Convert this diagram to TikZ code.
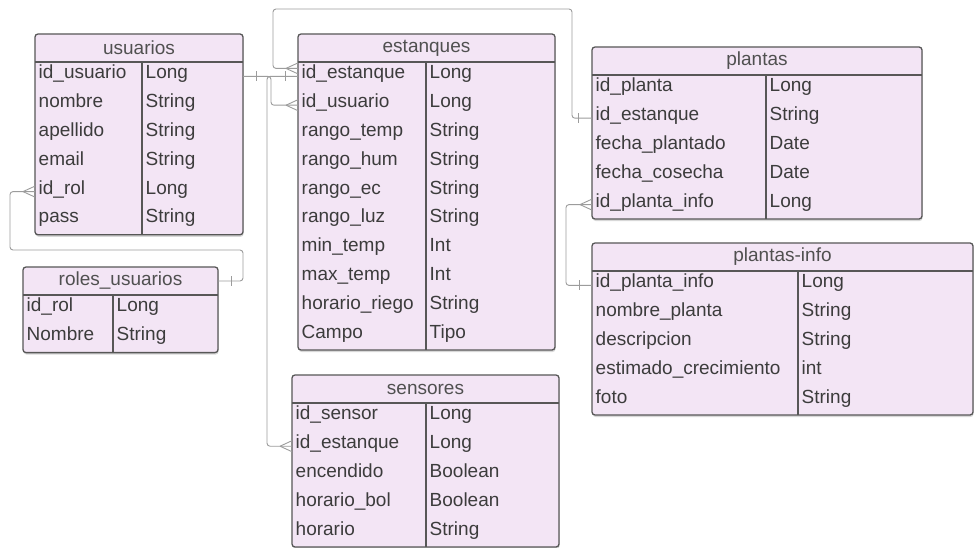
\documentclass[tikz,border=0pt]{standalone}
\usepackage{fontspec}
\setmainfont{Liberation Sans}
\usetikzlibrary{calc,shadows,fit}

\definecolor{tablefill}{HTML}{F3E5F5}
\definecolor{tableedge}{HTML}{575757}
\definecolor{textgrey}{HTML}{3C3C3C}
\definecolor{linkgrey}{HTML}{9C9C9C}

\newcommand{\hdrh}{28}
\newcommand{\rowh}{28.8}

\tikzset{
  tablebox/.style={draw=tableedge, line width=1.3pt, fill=tablefill,
    rounded corners=3pt, inner sep=0pt,
    drop shadow={shadow xshift=0.6pt, shadow yshift=-2pt, opacity=0.3}},
  tableline/.style={draw=tableedge, line width=1.1pt},
  slot/.style={rectangle, draw=none, inner sep=0pt, outer sep=0pt},
  cellfont/.style={font=\fontsize{19}{22}\selectfont, text=textgrey},
  titletext/.style={cellfont, text=textgrey!90},
  fieldtext/.style={cellfont, anchor=west, inner xsep=3.5pt, inner ysep=0pt,
    text height=0.72em, text depth=0.21em},
  link/.style={draw=linkgrey, line width=0.9pt, rounded corners=3pt},
  cardmark/.style={draw=linkgrey, line width=0.9pt}
}

% #1 prefix, #2 left, #3 top, #4 right, #5 column divider,
% #6 number of rows, #7 title, #8 field/type list
\newcommand{\ertable}[8]{%
  \pgfmathsetmacro{\ybot}{#3+\hdrh+#6*\rowh}%
  \node[tablebox, fit={(#2,#3) (#4,\ybot)}] (#1) {};
  \node[slot, titletext, minimum width={#4-#2}, minimum height=\hdrh]
    (#1-h) at ({(#2+#4)/2},{#3+\hdrh/2}) {#7};
  \draw[tableline] (#2,{#3+\hdrh}) -- (#4,{#3+\hdrh});
  \draw[tableline] (#5,{#3+\hdrh}) -- (#5,\ybot);
  \foreach \f/\t [count=\i] in {#8} {
    \pgfmathsetmacro{\yc}{#3+\hdrh+(\i-0.5)*\rowh}
    \node[slot, minimum width={#4-#2}, minimum height=\rowh]
      (#1-\i) at ({(#2+#4)/2},\yc) {};
    \node[fieldtext] at (#2,\yc) {\f};
    \node[fieldtext] at (#5,\yc) {\t};
  }
}

% many-side marker entering a table from the left
\newcommand{\crowfoot}[1]{%
  \draw[cardmark] ($#1+(-12,0)$) -- ($#1+(0,-5.5)$)
                  ($#1+(-12,0)$) -- ($#1+(0,5.5)$);}
% one-side bar, #2 = horizontal offset from the table edge
\newcommand{\barmark}[2]{%
  \draw[cardmark] ($#1+(#2,-5)$) -- ($#1+(#2,5)$);}

\begin{document}
\begin{tikzpicture}[x=1pt,y=-1pt]
\useasboundingbox[fill=white] (0,0) rectangle (974,548);

\ertable{us}{35}{34}{243}{142}{6}{usuarios}{id\_usuario/Long, nombre/String, apellido/String, email/String, id\_rol/Long, pass/String}
\ertable{ro}{23}{267}{218}{113}{2}{roles\_usuarios}{id\_rol/Long, Nombre/String}
\ertable{es}{298}{34}{555}{426}{10}{estanques}{id\_estanque/Long, id\_usuario/Long, rango\_temp/String, rango\_hum/String, rango\_ec/String, rango\_luz/String, min\_temp/Int, max\_temp/Int, horario\_riego/String, Campo/Tipo}
\ertable{pl}{592}{47}{922}{766}{5}{plantas}{id\_planta/Long, id\_estanque/String, fecha\_plantado/Date, fecha\_cosecha/Date, id\_planta\_info/Long}
\ertable{pi}{592}{243}{973}{798}{5}{plantas-info}{id\_planta\_info/Long, nombre\_planta/String, descripcion/String, estimado\_crecimiento/int, foto/String}
\ertable{se}{292}{375}{559}{426}{5}{sensores}{id\_sensor/Long, id\_estanque/Long, encendido/Boolean, horario\_bol/Boolean, horario/String}

% bends of the connectors
\coordinate (es-top) at ([yshift=8pt]es-1.west);
\coordinate (loop-top) at (572,9);
\coordinate (role-bend) at (243,250);

% relations
\draw[link] (us-1.east) -| ([xshift=-27pt]es-2.west) -- (es-2.west);
\draw[link] (se-2.west) -| ([xshift=-31pt]es-1.west) -- (es-1.west);
\draw[link] (es-top) -- ++(-25,0) |- (loop-top) |- (pl-2.west);
\draw[link] (us-5.west) -- ++(-25,0) |- (role-bend) |- (ro-h.east);
\draw[link] (pl-5.west) -- ++(-26,0) |- (pi-1.west);

% cardinality markers
\crowfoot{(es-2.west)}
\crowfoot{(es-top)}
\crowfoot{(se-2.west)}
\crowfoot{(us-5.west)}
\crowfoot{(pl-5.west)}
\barmark{(us-1.east)}{13}
\barmark{(es-1.west)}{-13}
\barmark{(pl-2.west)}{-14}
\barmark{(ro-h.east)}{13}
\barmark{(pi-1.west)}{-13}
\end{tikzpicture}
\end{document}
